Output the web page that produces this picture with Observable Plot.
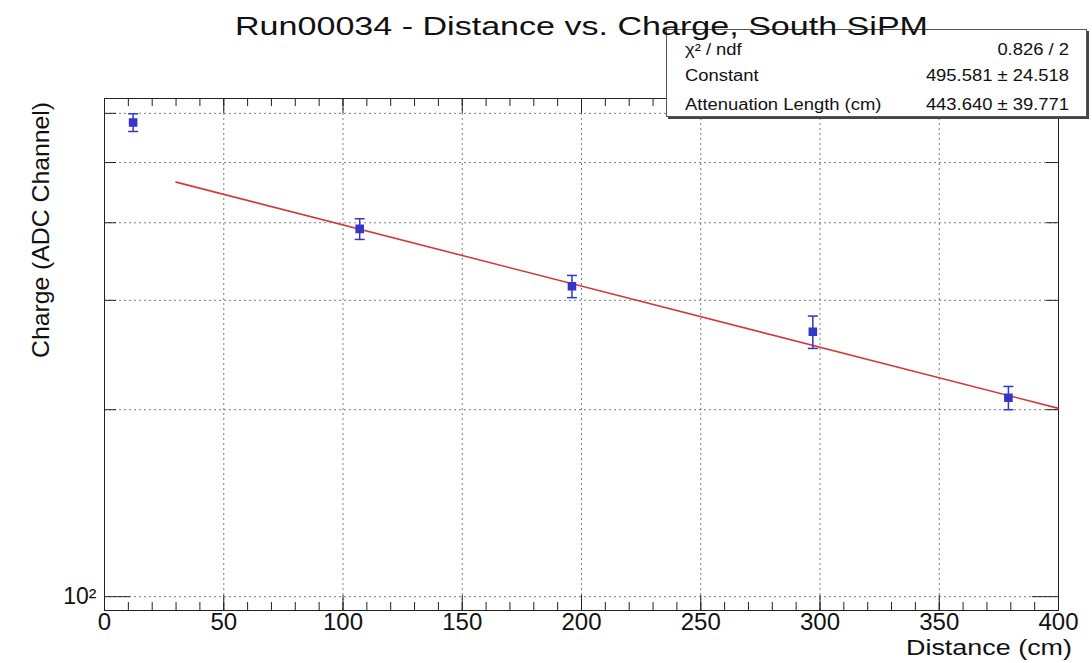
<!DOCTYPE html>
<html>
<head>
<meta charset="utf-8">
<script src="https://cdn.jsdelivr.net/npm/d3@7"></script>
<script src="https://cdn.jsdelivr.net/npm/@observablehq/plot@0.6"></script>
<style>
  html, body { margin: 0; padding: 0; background: #fff; }
  body { font-family: "Liberation Sans", Arial, Helvetica, sans-serif; }
  #wrap { position: relative; width: 1092px; height: 663px; overflow: hidden; background: #fff; }
  #wrap svg { position: absolute; left: 0; top: 0; }
  .ov { position: absolute; left: 0; top: 0; white-space: nowrap; line-height: 1; transform-origin: 0 0; color: #111; }
  #stats { position: absolute; left: 666px; top: 29px; width: 421px; height: 88px; background: #fff;
           border: 1px solid #555; box-shadow: 2px 2px 0 #444; z-index: 2; box-sizing: border-box; }
</style>
</head>
<body>
<div id="wrap"><div id="stats"></div></div>
<script>
// ---------------- data ----------------
const distance   = [12, 107, 196, 297, 379];          // cm
const charge     = [580, 391, 316, 267, 209];          // ADC channel
const chargeErr  = [19, 15, 13, 16, 9];
const fitDistance = [30, 400];                         // fitted line end points
const fitCharge   = [465, 201];
const xMajorTicks = [0, 50, 100, 150, 200, 250, 300, 350, 400];
const xMinorTicks = d3.range(0, 401, 10);
const yDecadeTicks = [100];
const yMajorTicks = [200, 300, 400, 500, 600];
const yTickLabel = "10²";
const titleText = "Run00034 - Distance vs. Charge, South SiPM";
const xTitle = "Distance (cm)";
const yTitle = "Charge (ADC Channel)";
const statsNames  = ["χ² / ndf", "Constant", "Attenuation Length (cm)"];
const statsValues = ["0.826 / 2", "495.581 ± 24.518", "443.640 ± 39.771"];

// ---------------- chart ----------------
const W = 1092, H = 663, mL = 104, mR = 34, mT = 98, mB = 53;
const FW = W - mL - mR, FH = H - mT - mB;
const points = distance.map((d, i) => ({d, c: charge[i], e: chargeErr[i]}));
const fit = fitDistance.map((d, i) => ({d, c: fitCharge[i]}));
const capSymbol = {draw(ctx, size) { const r = Math.sqrt(size / Math.PI); ctx.moveTo(-r, 0); ctx.lineTo(r, 0); }};
const blue = "#3535c8", red = "#d23a3a", ink = "#222";
const gridStyle = {stroke: "#000", strokeOpacity: 0.5, strokeDasharray: "2,3"};

const chart = Plot.plot({
  width: W, height: H,
  marginLeft: mL, marginRight: mR, marginTop: mT, marginBottom: mB,
  style: {fontFamily: "Liberation Sans, Arial, sans-serif", background: "transparent", color: "#111"},
  x: {domain: [0, 400]},
  y: {type: "log", domain: [95, 634]},
  marks: [
    Plot.gridX(xMajorTicks, gridStyle),
    Plot.gridY(yDecadeTicks.concat(yMajorTicks), gridStyle),
    // x ticks (inside, bottom and top)
    Plot.tickX(xMinorTicks, {x: d => d, insetTop: FH - 8, stroke: ink}),
    Plot.tickX(xMinorTicks, {x: d => d, insetBottom: FH - 8, stroke: ink}),
    Plot.tickX(xMajorTicks, {x: d => d, insetTop: FH - 15, stroke: ink}),
    Plot.tickX(xMajorTicks, {x: d => d, insetBottom: FH - 15, stroke: ink}),
    // y ticks (inside, left and right)
    Plot.tickY(yDecadeTicks, {y: d => d, insetRight: FW - 26, stroke: ink}),
    Plot.tickY(yDecadeTicks, {y: d => d, insetLeft: FW - 26, stroke: ink}),
    Plot.tickY(yMajorTicks, {y: d => d, insetRight: FW - 12, stroke: ink}),
    Plot.tickY(yMajorTicks, {y: d => d, insetLeft: FW - 12, stroke: ink}),
    Plot.frame({stroke: ink}),
    Plot.axisX({ticks: xMajorTicks, tickSize: 0, tickPadding: 2, fontSize: 24, tickFormat: d => `${d}`, label: null}),
    Plot.axisY({ticks: yDecadeTicks, tickSize: 0, tickPadding: 8, fontSize: 23, tickFormat: () => yTickLabel, label: null}),
    // fit
    Plot.line(fit, {x: "d", y: "c", stroke: red, strokeWidth: 1.6}),
    // error bars and markers
    Plot.link(points, {x1: "d", x2: "d", y1: d => d.c - d.e, y2: d => d.c + d.e, stroke: blue, strokeWidth: 1.5}),
    Plot.dot(points, {x: "d", y: d => d.c - d.e, symbol: capSymbol, r: 5, stroke: blue, strokeWidth: 1.5}),
    Plot.dot(points, {x: "d", y: d => d.c + d.e, symbol: capSymbol, r: 5, stroke: blue, strokeWidth: 1.5}),
    Plot.dot(points, {x: "d", y: "c", symbol: "square", r: 4, fill: blue, stroke: blue})
  ]
});
const wrap = document.getElementById("wrap");
wrap.insertBefore(chart, wrap.firstChild);

// ---------------- text overlays ----------------
function overlay(txt, o) {
  const el = document.createElement("div");
  el.className = "ov";
  el.textContent = txt;
  el.style.fontSize = o.size + "px";
  el.style.zIndex = o.z || 3;
  wrap.appendChild(el);
  const r = el.getBoundingClientRect();
  const w = r.width, h = r.height;
  const s = o.width ? o.width / w : (o.scale || 1);
  const Wd = s * w;
  if (o.rotate) {
    const tx = o.cx - h / 2, ty = o.top + Wd;
    el.style.transform = `translate(${tx}px, ${ty}px) rotate(-90deg) scale(${s}, 1)`;
  } else {
    const left = o.anchor === "end" ? o.x - Wd : o.anchor === "middle" ? o.x - Wd / 2 : o.x;
    const top = o.y - 0.5 * h;
    el.style.transform = `translate(${left}px, ${top}px) scale(${s}, 1)`;
  }
  return el;
}

overlay(titleText, {x: 235, y: 26, anchor: "start", size: 25, width: 693, z: 4});
overlay(xTitle, {x: 1072, y: 648, anchor: "end", size: 22, width: 166});
overlay(yTitle, {cx: 41, top: 102, size: 24, width: 256, rotate: true});

const rowY = [50, 76, 105];
statsNames.forEach((t, i) => overlay(t, {x: 685, y: rowY[i], anchor: "start", size: 16, scale: 1.15, z: 3}));
statsValues.forEach((t, i) => overlay(t, {x: 1069, y: rowY[i], anchor: "end", size: 16, scale: 1.15, z: 3}));
</script>
</body>
</html>
